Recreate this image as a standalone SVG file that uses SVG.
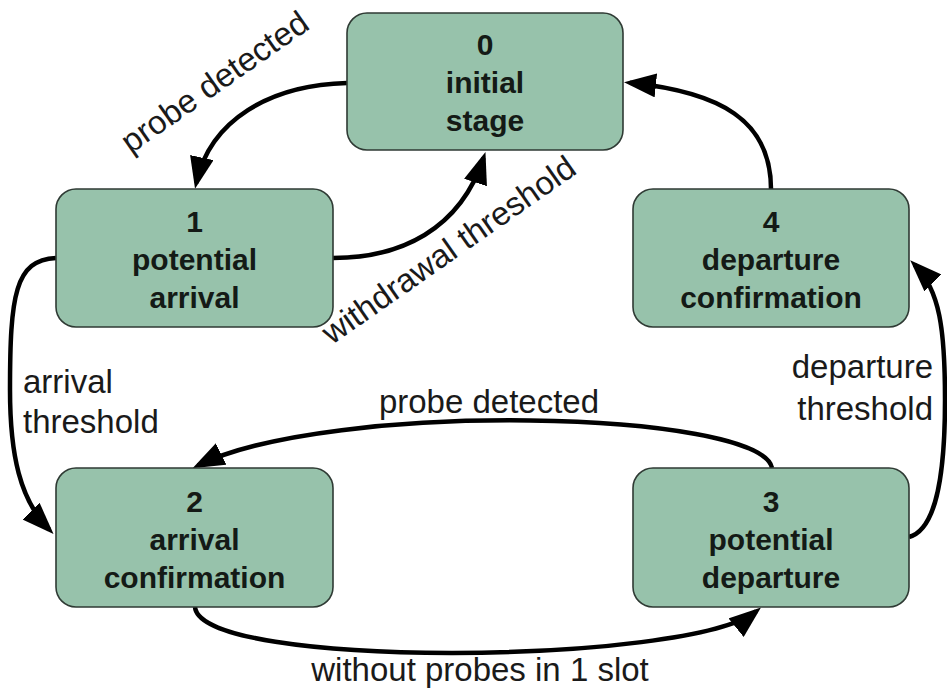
<svg xmlns="http://www.w3.org/2000/svg" width="947" height="688" viewBox="0 0 947 688">
<style>
.box{fill:#97c2ab;stroke:#2f3a34;stroke-width:1.6}
.bt{font-family:"Liberation Sans",Arial,sans-serif;font-weight:bold;font-size:30px;fill:#141a16;text-anchor:middle}
.lb{font-family:"Liberation Sans",Arial,sans-serif;font-size:33px;fill:#1a1a1a}
.edge{fill:none;stroke:#000;stroke-width:4.5}
</style>
<defs>
<marker id="ah" viewBox="0 0 32 24" refX="26" refY="12" markerWidth="32" markerHeight="24" markerUnits="userSpaceOnUse" orient="auto">
<path d="M0,0 L32,12 L0,24 z" fill="#000"/>
</marker>
</defs>
<rect width="947" height="688" fill="#fff"/>
<g id="connectors">
<path class="edge" d="M347,83 C270,85 210,120 196.3,183" marker-end="url(#ah)"/>
<path class="edge" d="M333,258 C400,258 460,230 483.6,157.8" marker-end="url(#ah)"/>
<path class="edge" d="M56,258 C15,260 10,295 10,390 C10,455 20,500 49.3,529.7" marker-end="url(#ah)"/>
<path class="edge" d="M772,468 C760,410 330,400 197.9,465.6" marker-end="url(#ah)"/>
<path class="edge" d="M195,607 C200,670 690,665 756.3,611.3" marker-end="url(#ah)"/>
<path class="edge" d="M909,537 C935,530 945,480 945,400 C945,330 940,290 914.5,264.6" marker-end="url(#ah)"/>
<path class="edge" d="M771,189 C771,120 720,92 630,82.8" marker-end="url(#ah)"/>
<text class="lb" text-anchor="middle" transform="translate(221,91) rotate(-35)">probe detected</text>
<text class="lb" text-anchor="middle" transform="translate(455,259) rotate(-35)">withdrawal threshold</text>
<text class="lb" x="23" y="393">arrival</text>
<text class="lb" x="23" y="433">threshold</text>
<text class="lb" x="933" y="378" text-anchor="end">departure</text>
<text class="lb" x="933" y="420" text-anchor="end">threshold</text>
<text class="lb" x="489" y="413" text-anchor="middle">probe detected</text>
<text class="lb" x="480" y="681" text-anchor="middle">without probes in 1 slot</text>
</g>
<g id="node0">
<rect class="box" x="347" y="13" width="276" height="137" rx="20"/>
<text class="bt" x="485" y="55">0</text>
<text class="bt" x="485" y="93">initial</text>
<text class="bt" x="485" y="131">stage</text>
</g>
<g id="node1">
<rect class="box" x="56" y="189" width="277" height="138" rx="20"/>
<text class="bt" x="194.5" y="232">1</text>
<text class="bt" x="194.5" y="270">potential</text>
<text class="bt" x="194.5" y="308">arrival</text>
</g>
<g id="node2">
<rect class="box" x="56" y="468" width="277" height="139" rx="20"/>
<text class="bt" x="194.5" y="512">2</text>
<text class="bt" x="194.5" y="550">arrival</text>
<text class="bt" x="194.5" y="588">confirmation</text>
</g>
<g id="node3">
<rect class="box" x="633" y="468" width="276" height="139" rx="20"/>
<text class="bt" x="771" y="512">3</text>
<text class="bt" x="771" y="550">potential</text>
<text class="bt" x="771" y="588">departure</text>
</g>
<g id="node4">
<rect class="box" x="633" y="189" width="276" height="138" rx="20"/>
<text class="bt" x="771" y="232">4</text>
<text class="bt" x="771" y="270">departure</text>
<text class="bt" x="771" y="308">confirmation</text>
</g>
</svg>
